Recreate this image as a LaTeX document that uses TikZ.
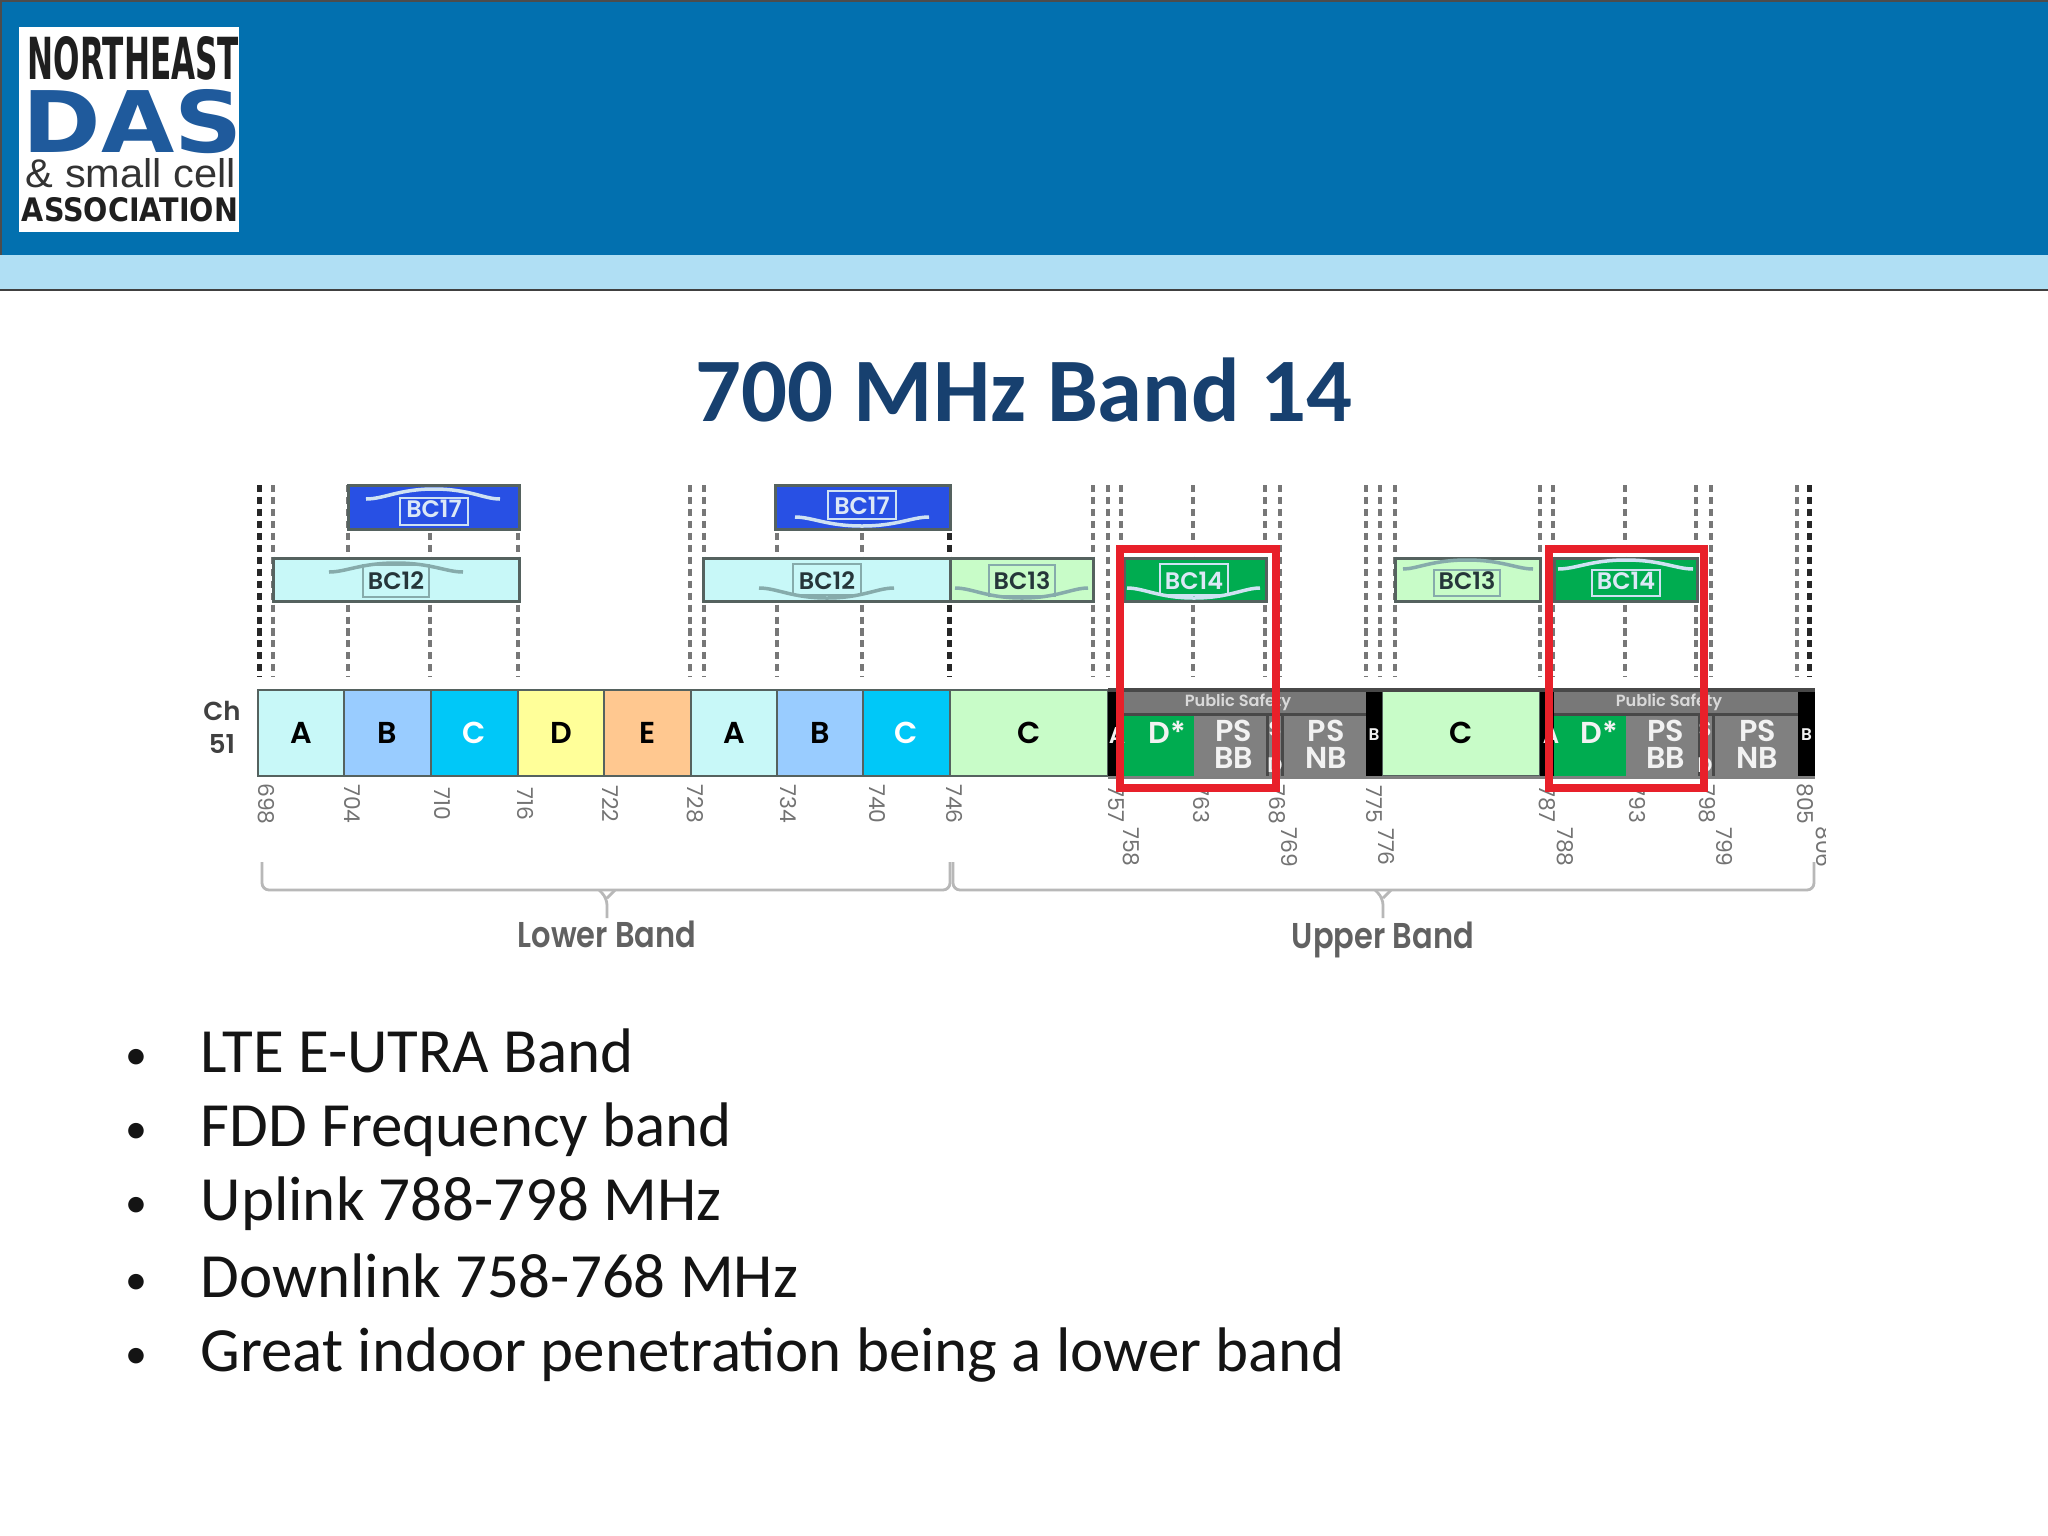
\documentclass[tikz,border=0pt]{standalone}
\usepackage{fontspec}
\setmainfont{Carlito}
\setsansfont{Poppins}[BoldFont={Poppins SemiBold}]
\newfontfamily\logofont{Liberation Sans}
\newfontfamily\logoheavy{DejaVu Sans}

\definecolor{headblue}{HTML}{0270AF}
\definecolor{headlight}{HTML}{B0DFF4}
\definecolor{titleblue}{HTML}{17406F}
\definecolor{dasblue}{HTML}{1F5A9C}
\definecolor{cellline}{HTML}{55625F}
\definecolor{guide}{HTML}{777777}
\definecolor{cellA}{HTML}{C8F8F8}
\definecolor{cellB}{HTML}{99CCFF}
\definecolor{cellC}{HTML}{00C8F8}
\definecolor{cellD}{HTML}{FFFF99}
\definecolor{cellE}{HTML}{FFC890}
\definecolor{cellG}{HTML}{C8FCC8}
\definecolor{cellDs}{HTML}{00AC50}
\definecolor{cellPS}{HTML}{808080}
\definecolor{cellBar}{HTML}{787878}
\definecolor{cellSep}{HTML}{484848}
\definecolor{bandRed}{HTML}{E8202A}
\definecolor{bcBlue}{HTML}{2850E4}
\definecolor{markPale}{HTML}{CFE2F2}
\definecolor{markTeal}{HTML}{86ABAB}
\definecolor{inkPale}{HTML}{DCE8F6}
\definecolor{inkDark}{HTML}{26363A}

\tikzset{
    bandcell/.style={draw=cellline, line width=.025cm},
    celltext/.style={font=\sffamily\fontsize{8.6}{9}\selectfont\bfseries, inner sep=0pt},
    pstext/.style={font=\sffamily\fontsize{8.6}{7.6}\selectfont\bfseries, text=white!95!black, inner sep=0pt, align=center},
    guideline/.style={draw=guide, line width=.034cm, dash pattern=on 2pt off 1.4pt},
    ticktext/.style={font=\sffamily\fontsize{6.2}{7}\selectfont, text=black!55, rotate=-90, inner sep=0pt},
    bandbrace/.style={draw=black!28, line width=.028cm, rounded corners=2pt},
    bandname/.style={font=\sffamily\fontsize{10.2}{12}\selectfont\bfseries, text=black!62, inner sep=0pt},
    redframe/.style={draw=bandRed, line width=.08cm},
    bullettext/.style={font=\fontsize{17.9}{21}\selectfont, text=black!92, anchor=base west, inner sep=0pt},
    bulletdot/.style={font=\fontsize{12.5}{14}\selectfont, text=black!92, anchor=base, inner sep=0pt}
}

\begin{document}
\begin{tikzpicture}[x=0.01cm, y=-0.01cm]
    \useasboundingbox (0,0) rectangle (2048,1536);

    % header
    \fill[white] (0,0) rectangle (2048,1536);
    \fill[headblue] (0,0) rectangle (2048,255);
    \fill[headlight] (0,255) rectangle (2048,290);
    \draw[black!75, line width=.02cm] (0,290) -- (2048,290);
    \draw[black!70, line width=.03cm] (0,255) -- (0,0) -- (2048,0);

    % logo
    \fill[white] (19,27) rectangle (239,232);
    \node[inner sep=0pt, text=black!88] (logoNorth) at (133.5,58.5) {\resizebox{2.11cm}{.43cm}{\logoheavy\bfseries NORTHEAST}};
    \node[inner sep=0pt, text=dasblue] (logoDas) at (132.5,122) {\resizebox{2.2cm}{.63cm}{\logoheavy\bfseries DAS}};
    \node[inner sep=0pt, text=black!80] (logoSmall) at (131,173) {\resizebox{2.1cm}{.29cm}{\logofont \& small cell}};
    \node[inner sep=0pt, text=black!88] (logoAssoc) at (130,209.5) {\resizebox{2.16cm}{.24cm}{\logoheavy\bfseries ASSOCIATION}};

    % title
    \node[font=\fontsize{25.8}{30}\selectfont\bfseries, text=titleblue, inner sep=0pt] (title) at (1024,390) {700 MHz Band 14};

    % guide lines
    \foreach \x in {273,348,430,518,690,704,777,862,1093,1108,1121,1193,1265,1280,1366,1380,1395,1540,1553,1625,1696,1711,1797}
        \draw[guideline] (\x,485) -- (\x,677);
    \foreach \x in {259,949,1809}
        \draw[guideline, line width=.05cm, draw=black!85] (\x,485) -- (\x,677);

    % channel cells
    \foreach \xa/\xb/\col/\txt/\ink/\name in {258/344/cellA/A/black/lowA,344/431/cellB/B/black/lowB,431/518/cellC/C/white/lowC,518/604/cellD/D/black/lowD,604/691/cellE/E/black/lowE,691/777/cellA/A/black/upA,777/863/cellB/B/black/upB,863/950/cellC/C/white/upC,950/1108/cellG/C/black/midC,1382/1540/cellG/C/black/topC}
    {
        \draw[bandcell, fill=\col] (\xa,690) rectangle (\xb,776);
        \node[celltext, text=\ink] (\name) at ({(\xa+\xb)/2},733) {\txt};
    }

    % public safety blocks
    \foreach \xa/\xd/\xe/\xf/\xg/\xh/\xi/\s in {1108/1123/1194/1267/1282/1366/1382/a,1540/1554/1626/1699/1713/1798/1815/b}
    {
        \fill[black] (\xa,690) rectangle (\xi,777);
        \fill[cellPS] (\xd,690) rectangle (\xh,777);
        \fill[cellBar] (\xd,690) rectangle (\xh,714);
        \fill[cellSep] (\xd,713) rectangle (\xh,716);
        \fill[cellDs] (\xd,716) rectangle (\xe,776);
        \fill[black] (\xh,690) rectangle (\xi,777);
        \draw[cellSep, line width=.03cm] (\xf,716) -- (\xf,776) (\xg,716) -- (\xg,776);
        \node[pstext, font=\sffamily\fontsize{4.6}{5}\selectfont\bfseries, text=black!15] (safety\s) at ({\xd+115},702) {Public Safety};
        \node[pstext] (dstar\s) at ({(\xd+\xe)/2+9},732) {D*};
        \node[pstext] (psbb\s) at ({(\xe+\xf)/2+3},744) {PS\\BB};
        \node[pstext] (psnb\s) at ({(\xg+\xh)/2+2},744) {PS\\NB};
        \node[pstext, font=\sffamily\fontsize{4.8}{5}\selectfont\bfseries] (bside\s) at ({(\xh+\xi)/2},735) {B};
    }
    \draw[cellSep, line width=.04cm] (1108,690) -- (1815,690);
    \draw[cellSep!70, line width=.03cm] (1108,777) -- (1815,777);

    % letters cut off by the cells
    \node[pstext, font=\sffamily\fontsize{6.5}{7}\selectfont\bfseries] (sideAa) at (1117,735) {A};
    \node[pstext, font=\sffamily\fontsize{6.5}{7}\selectfont\bfseries] (sideAb) at (1551,735) {A};
    \node[pstext, font=\sffamily\fontsize{6}{10}\selectfont\bfseries] (sideSa) at (1275,747) {S\\D};
    \node[pstext, font=\sffamily\fontsize{6}{10}\selectfont\bfseries] (sideSb) at (1705,747) {S\\D};

    % Ch 51
    \node[font=\sffamily\fontsize{7.4}{9}\selectfont\bfseries, text=black!75, inner sep=0pt] (chTop) at (222,711) {Ch};
    \node[font=\sffamily\fontsize{7.4}{9}\selectfont\bfseries, text=black!75, inner sep=0pt] (chBottom) at (222,744) {51};

    % block boxes
    \foreach \xa/\xb/\ya/\yb/\col in {348/519/485/529/bcBlue,775/950/485/529/bcBlue,273/519/558/601/cellA,703/950/558/601/cellA,950/1093/558/601/cellG,1395/1540/558/601/cellG,1124/1266/558/601/cellDs,1554/1697/558/601/cellDs}
        \draw[draw=cellline, line width=.03cm, fill=\col] (\xa,\ya) rectangle (\xb,\yb);

    % block labels
    \foreach \c/\yt/\bw/\by/\bh/\sl/\sr/\sy/\sp/\mk/\ink/\txt/\name in {
        434/509/34/498/27/366/500/499/489/markPale/inkPale/BC17/bcA,
        862/506/34/491/28/795/929/517/526/markPale/inkPale/BC17/bcB,
        396/581/33/565/32/329/463/572/563/markTeal/inkDark/BC12/bcC,
        827/581/34/564/31/759/894/588/598/markTeal/inkDark/BC12/bcD,
        1022/581/33/565/31/955/1088/588/598/markTeal/inkDark/BC13/bcE,
        1467/581/33/570/26/1403/1533/569/560/markTeal/inkDark/BC13/bcF,
        1194/581/34/564/31/1127/1260/588/598/markPale/inkPale/BC14/bcG,
        1626/581/34/570/26/1558/1693/569/560/markPale/inkPale/BC14/bcH}
    {
        \draw[\mk, line width=.02cm] ({\c-\bw},\by) rectangle ({\c+\bw},{\by+\bh});
        \draw[\mk, line width=.035cm] (\sl,\sy) .. controls ({\c-50},\sy) and ({\c-35},\sp) .. (\c,\sp) .. controls ({\c+35},\sp) and ({\c+50},\sy) .. (\sr,\sy);
        \node[font=\sffamily\fontsize{6.8}{8}\selectfont\bfseries, text=\ink, inner sep=0pt] (\name) at (\c,\yt) {\txt};
    }

    % frequency ticks
    \foreach \x/\f in {266/698,352/704,442/710,526/716,611/722,695/728,788/734,877/740,955/746,1116/757,1201/763,1277/768,1374/775,1547/787,1637/793,1707/798,1805/805}
        \node[ticktext] (tick\f) at (\x,804) {\f};
    \foreach \x/\f in {1131/758,1290/769,1387/776,1565/788,1725/799}
        \node[ticktext] (tick\f) at (\x,847) {\f};
    \begin{scope}
        \clip (1800,825) rectangle (1825,880);
        \node[ticktext] (tick806) at (1824,847) {806};
    \end{scope}

    % braces
    \coordinate (lowerL) at (262,862);
    \coordinate (lowerR) at (950,862);
    \coordinate (upperL) at (953,862);
    \coordinate (upperR) at (1814,862);
    \draw[bandbrace] (lowerL) -- (262,890) -- (950,890) -- (lowerR);
    \draw[bandbrace] (upperL) -- (953,890) -- (1814,890) -- (upperR);
    \draw[bandbrace] (599,890) -- (607,898) -- (607,918) (607,898) -- (615,890);
    \draw[bandbrace] (1375,890) -- (1383,898) -- (1383,918) (1383,898) -- (1391,890);
    \node[bandname] (lowerBand) at (607,934) {\scalebox{.85}[1]{Lower Band}};
    \node[bandname] (upperBand) at (1383,940) {\scalebox{.85}[1]{Upper Band}};

    % red frames
    \draw[redframe] (1120,549) rectangle (1276,788);
    \draw[redframe] (1549,549) rectangle (1704,788);

    % bullet list
    \foreach \y/\txt [count=\i] in {1072/LTE E-UTRA Band,1146/FDD Frequency band,1220/Uplink 788-798 MHz,1297/Downlink 758-768 MHz,1371/Great indoor penetration being a lower band}
    {
        \node[bulletdot] (itemDot\i) at (136,{\y-3}) {•};
        \node[bullettext] (item\i) at (200,\y) {\txt};
    }
\end{tikzpicture}
\end{document}
